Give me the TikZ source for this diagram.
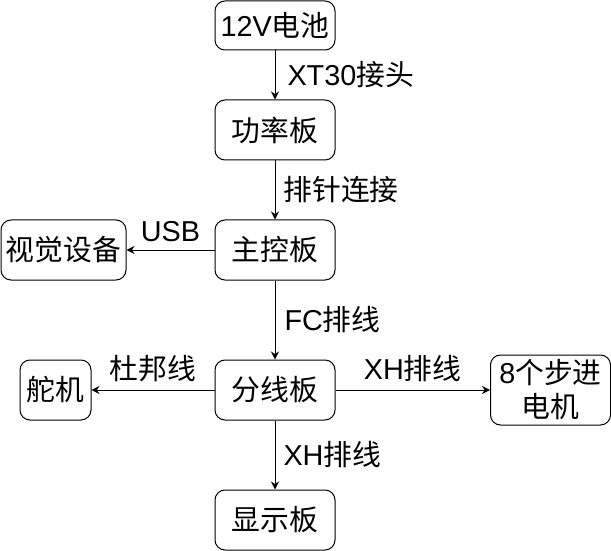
\documentclass[tikz,border=0pt]{standalone}
\usepackage{fontspec}
\setmainfont{Liberation Sans}
\newfontfamily\cjk{Noto Sans CJK SC}
\usetikzlibrary{arrows.meta}
\newcommand{\zh}[1]{{\cjk #1}}

\begin{document}
\begin{tikzpicture}[x=0.5pt,y=-0.5pt,
  font=\fontsize{14.4}{17}\selectfont,
  blk/.style={draw,rounded corners=5pt,line width=0.5pt,minimum width=60pt,minimum height=30pt,inner sep=0pt,align=center},
  conn/.style={-{Stealth[length=4pt,width=4pt]},line width=0.5pt},
  lbl/.style={inner sep=0pt}]
\useasboundingbox (0,0) rectangle (611,551);
\node[blk,minimum height=24.5pt] (bat) at (275,25.5) {12V\zh{电池}};
\node[blk] (pwr) at (275,130) {\zh{功率板}};
\node[blk] (mcu) at (275,250) {\zh{主控板}};
\node[blk,minimum width=62.5pt] (cam) at (63.5,250) {\zh{视觉设备}};
\node[blk] (hub) at (275,390) {\zh{分线板}};
\node[blk,minimum width=35.5pt] (servo) at (55.5,390) {\zh{舵机}};
\node[blk,minimum height=35pt] (motor) at (550.5,390) {8\zh{个步进}\\\zh{电机}};
\node[blk] (disp) at (275,520) {\zh{显示板}};
\draw[conn] (bat) -- (pwr) node[lbl,midway,right=6pt] {XT30\zh{接头}};
\draw[conn] (pwr) -- (mcu) node[lbl,midway,right=4pt] {\zh{排针连接}};
\draw[conn] (mcu) -- (cam) node[lbl,midway,above=4pt] {USB};
\draw[conn] (mcu) -- (hub) node[lbl,midway,right=4.5pt] {FC\zh{排线}};
\draw[conn] (hub) -- (servo) node[lbl,midway,above=4pt] {\zh{杜邦线}};
\draw[conn] (hub) -- (motor) node[lbl,midway,above=4pt] {XH\zh{排线}};
\draw[conn] (hub) -- (disp) node[lbl,midway,right=4pt] {XH\zh{排线}};
\end{tikzpicture}
\end{document}
